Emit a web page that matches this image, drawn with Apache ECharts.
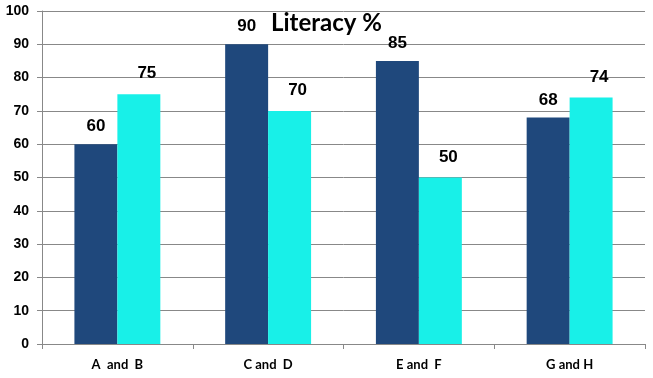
<!DOCTYPE html>
<html><head><meta charset="utf-8">
<script src="https://cdn.jsdelivr.net/npm/echarts@6/dist/echarts.min.js"></script>
<style>html,body{margin:0;padding:0;background:#fff}#c{width:653px;height:378px}</style>
</head><body><div id="c"></div>
<script>
const categories = ["A  and  B", "C and  D", "E and  F", "G and H"];
const seriesA = [60, 90, 85, 68];
const seriesB = [75, 70, 50, 74];
const yTicks = { min: 0, max: 100, interval: 10 };

const chart = echarts.init(document.getElementById('c'), null, { renderer: 'canvas' });
const labelStyle = { show: true, position: 'top', distance: 9, color: '#000', fontWeight: 'bold', fontSize: 17, fontFamily: 'Liberation Sans, Arial, sans-serif' };
chart.setOption({
  animation: false,
  title: { text: 'Literacy %', left: 'center', top: 6, textStyle: { fontFamily: 'Lato, sans-serif', fontWeight: 'bold', fontSize: 24, color: '#000' } },
  grid: { left: 42, right: 8, top: 11, bottom: 34, containLabel: false },
  xAxis: {
    type: 'category', data: categories,
    axisLine: { lineStyle: { color: '#888', width: 1 } },
    axisTick: { show: true, length: 5, alignWithLabel: false, lineStyle: { color: '#888' } },
    axisLabel: { margin: 14, color: '#000', fontWeight: 'bold', fontSize: 13, fontFamily: 'Lato, sans-serif' }
  },
  yAxis: {
    type: 'value', min: yTicks.min, max: yTicks.max, interval: yTicks.interval,
    axisLine: { show: true, lineStyle: { color: '#888', width: 1 } },
    axisTick: { show: true, length: 5, lineStyle: { color: '#888' } },
    axisLabel: { margin: 13, color: '#000', fontWeight: 'bold', fontSize: 14, fontFamily: 'Liberation Sans, Arial, sans-serif' },
    splitLine: { show: true, lineStyle: { color: '#888', width: 1 } }
  },
  series: [
    { type: 'bar', data: seriesA, barGap: '0%', barCategoryGap: '43%', itemStyle: { color: '#1F487C' }, label: labelStyle },
    { type: 'bar', data: seriesB, itemStyle: { color: '#18F0E8' }, label: Object.assign({}, labelStyle, { offset: [8, -3] }) }
  ]
});
</script></body></html>
